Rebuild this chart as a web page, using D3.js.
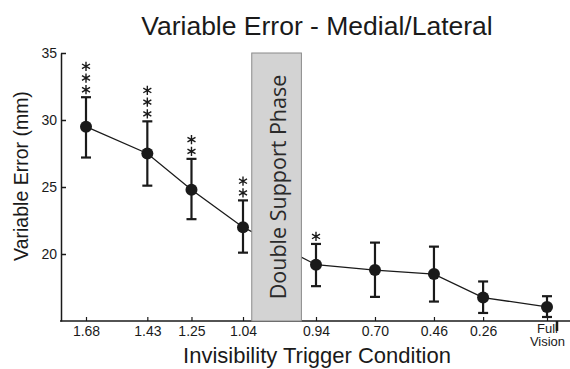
<!DOCTYPE html>
<html>
<head>
<meta charset="utf-8">
<script src="https://cdn.jsdelivr.net/npm/d3@7"></script>
<style>
  body { margin: 0; background: #fff; }
  svg { display: block; font-family: "Liberation Sans", Arial, sans-serif; }
</style>
</head>
<body>
<svg id="chart" width="570" height="369"></svg>
<script>
// trigger conditions (0 = full vision)
const conditions = [1.68, 1.43, 1.25, 1.04, 0.94, 0.70, 0.46, 0.26, 0];
const tickLabels = ["1.68", "1.43", "1.25", "1.04", "0.94", "0.70", "0.46", "0.26", "Full Vision"];
// variable error (mm) with error bar ends
const meanError = [29.5, 27.5, 24.8, 22.0, 19.2, 18.8, 18.5, 16.75, 16.05];
const upperError = [31.7, 29.9, 27.1, 24.0, 20.75, 20.85, 20.55, 17.95, 16.85];
const lowerError = [27.2, 25.1, 22.6, 20.1, 17.6, 16.8, 16.45, 15.6, 15.3];
const stars = [3, 3, 2, 2, 1, 0, 0, 0, 0];
const yTicks = [20, 25, 30, 35];
// double support phase sits between 1.04 and 0.94
const phase = [1.028, 0.96];

const data = conditions.map((c, i) => ({
  c, label: tickLabels[i], m: meanError[i], hi: upperError[i], lo: lowerError[i], s: stars[i]
}));

const svg = d3.select("#chart");
const ink = "#1a1a1a";
const font = "Liberation Sans, Arial, sans-serif";

// piecewise scale: gap for the double support phase
const x = d3.scaleLinear().domain([1.68, 1.04, 0.94, 0]).range([86, 243, 316, 547]);
const y = d3.scaleLinear().domain([15, 35]).range([321, 53]);
const left = 61, right = 570;

// title
svg.append("text")
  .attr("x", 317).attr("y", 35)
  .attr("text-anchor", "middle")
  .attr("font-size", 26.5)
  .attr("fill", ink)
  .text("Variable Error - Medial/Lateral");

// y axis
const yAxis = svg.append("g")
  .attr("transform", `translate(${left},0)`)
  .call(d3.axisLeft(y).tickValues(yTicks).tickSizeInner(-5).tickSizeOuter(0).tickPadding(4));
yAxis.selectAll("text").attr("font-size", 14).attr("fill", ink).attr("font-family", font);
yAxis.selectAll("line, path").attr("stroke", ink).attr("stroke-width", 1.5);

// x axis
const xAxis = svg.append("g")
  .attr("transform", `translate(0,${y(15)})`)
  .call(d3.axisBottom(x).tickValues(conditions).tickSizeInner(-4).tickSizeOuter(0).tickPadding(5)
    .tickFormat((d, i) => tickLabels[i]));
xAxis.select(".domain").remove();
xAxis.selectAll("line").attr("stroke", ink).attr("stroke-width", 1.2);
xAxis.selectAll("text").attr("font-size", 14).attr("fill", ink).attr("font-family", font);
xAxis.selectAll(".tick").filter(d => d === 0).select("text")
  .attr("font-size", 13)
  .text(null)
  .call(t => {
    t.append("tspan").attr("x", 0).attr("dy", "0.55em").text("Full");
    t.append("tspan").attr("x", 0).attr("dy", "1em").text("Vision");
  });
svg.append("line")
  .attr("x1", left - 1).attr("x2", right).attr("y1", y(15)).attr("y2", y(15))
  .attr("stroke", ink).attr("stroke-width", 1.5);
svg.append("line")
  .attr("x1", 557).attr("x2", 557).attr("y1", y(15)).attr("y2", y(15) + 10)
  .attr("stroke", ink).attr("stroke-width", 2.5);

// axis titles
svg.append("text")
  .attr("x", 317).attr("y", 363)
  .attr("text-anchor", "middle")
  .attr("font-size", 22)
  .attr("fill", ink)
  .text("Invisibility Trigger Condition");
svg.append("text")
  .attr("transform", `translate(28,176) rotate(-90)`)
  .attr("text-anchor", "middle")
  .attr("font-size", 19.5)
  .attr("fill", ink)
  .text("Variable Error (mm)");

// connecting line
svg.append("path")
  .datum(data)
  .attr("fill", "none")
  .attr("stroke", ink)
  .attr("stroke-width", 1.3)
  .attr("d", d3.line().x(d => x(d.c)).y(d => y(d.m)));

// double support phase box
svg.append("rect")
  .attr("x", x(phase[0])).attr("width", x(phase[1]) - x(phase[0]))
  .attr("y", y(35)).attr("height", y(15) - y(35))
  .attr("fill", "#d3d3d3").attr("stroke", "#8a8a8a").attr("stroke-width", 1);
svg.append("text")
  .attr("transform", `translate(${(x(phase[0]) + x(phase[1])) / 2 + 9},187) rotate(-90)`)
  .attr("text-anchor", "middle")
  .attr("font-family", "Open Sans, Noto Sans, sans-serif")
  .attr("font-size", 21.5)
  .attr("fill", "#2a2a2a")
  .text("Double Support Phase");

// error bars
const bars = svg.append("g").attr("stroke", ink).attr("stroke-width", 2.2);
data.forEach(d => {
  const cx = x(d.c);
  bars.append("line").attr("x1", cx).attr("x2", cx).attr("y1", y(d.hi)).attr("y2", y(d.lo));
  bars.append("line").attr("x1", cx - 5).attr("x2", cx + 5).attr("y1", y(d.hi)).attr("y2", y(d.hi));
  bars.append("line").attr("x1", cx - 5).attr("x2", cx + 5).attr("y1", y(d.lo)).attr("y2", y(d.lo));
});

// markers
svg.append("g").selectAll("circle")
  .data(data).join("circle")
  .attr("cx", d => x(d.c)).attr("cy", d => y(d.m))
  .attr("r", 6).attr("fill", ink);

// significance asterisks stacked above each bar
const starGap = 11.7;
const starShape = d3.symbol().type(d3.symbolAsterisk).size(60);
const starData = data.flatMap(d => d3.range(d.s).map(k => ({ c: d.c, hi: d.hi, k })));
svg.append("g").selectAll("path")
  .data(starData).join("path")
  .attr("transform", d => `translate(${x(d.c)},${y(d.hi) - 7.5 - d.k * starGap})`)
  .attr("d", starShape)
  .attr("fill", "none")
  .attr("stroke", ink)
  .attr("stroke-width", 1.4);
</script>
</body>
</html>
